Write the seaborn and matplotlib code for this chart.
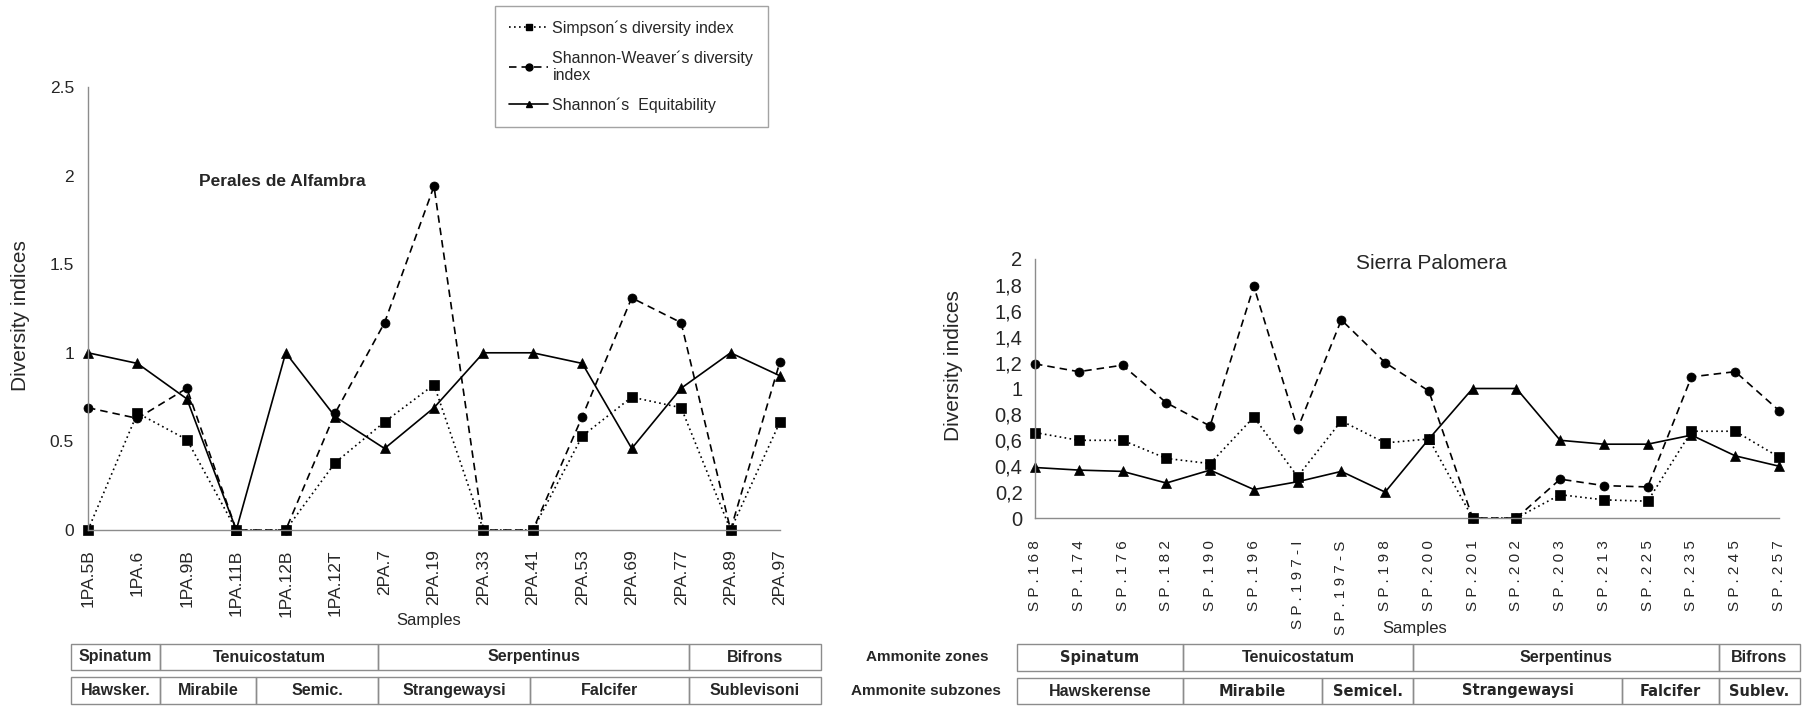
import numpy as np
import pandas as pd
import matplotlib
matplotlib.use("Agg")
import matplotlib.pyplot as plt
from matplotlib.lines import Line2D
from matplotlib.patches import Rectangle
import seaborn as sns

# ---- data: Perales de Alfambra ----
pa_samples = ["1PA.5B", "1PA.6", "1PA.9B", "1PA.11B", "1PA.12B", "1PA.12T", "2PA.7", "2PA.19",
              "2PA.33", "2PA.41", "2PA.53", "2PA.69", "2PA.77", "2PA.89", "2PA.97"]
pa_simpson = [0.0, 0.66, 0.51, 0.0, 0.0, 0.38, 0.61, 0.82, 0.0, 0.0, 0.53, 0.75, 0.69, 0.0, 0.61]
pa_shannon = [0.69, 0.63, 0.80, 0.0, 0.0, 0.66, 1.17, 1.94, 0.0, 0.0, 0.64, 1.31, 1.17, 0.0, 0.95]
pa_equit = [1.0, 0.94, 0.74, 0.0, 1.0, 0.64, 0.46, 0.69, 1.0, 1.0, 0.94, 0.46, 0.80, 1.0, 0.87]

# ---- data: Sierra Palomera ----
sp_samples = ["SP.168", "SP.174", "SP.176", "SP.182", "SP.190", "SP.196", "SP.197-I", "SP.197-S", "SP.198",
              "SP.200", "SP.201", "SP.202", "SP.203", "SP.213", "SP.225", "SP.235", "SP.245", "SP.257"]
sp_simpson = [0.66, 0.60, 0.60, 0.46, 0.42, 0.78, 0.32, 0.75, 0.58,
              0.61, 0.0, 0.0, 0.18, 0.14, 0.13, 0.67, 0.67, 0.47]
sp_shannon = [1.19, 1.13, 1.18, 0.89, 0.71, 1.79, 0.69, 1.53, 1.20,
              0.98, 0.0, 0.0, 0.30, 0.25, 0.24, 1.09, 1.13, 0.83]
sp_equit = [0.39, 0.37, 0.36, 0.27, 0.37, 0.22, 0.28, 0.36, 0.20,
            0.61, 1.0, 1.0, 0.60, 0.57, 0.57, 0.64, 0.48, 0.40]

index_names = ["Simpson´s diversity index", "Shannon-Weaver´s diversity\nindex", "Shannon´s  Equitability"]

pa_zones = ["Spinatum", "Tenuicostatum", "Serpentinus", "Bifrons"]
pa_subzones = ["Hawsker.", "Mirabile", "Semic.", "Strangewaysi", "Falcifer", "Sublevisoni"]
sp_zones = ["Spinatum", "Tenuicostatum", "Serpentinus", "Bifrons"]
sp_subzones = ["Hawskerense", "Mirabile", "Semicel.", "Strangewaysi", "Falcifer", "Sublev."]

# cell edges of the zone tables (pixels)
pa_zone_edges = [71, 160, 378, 689, 821]
pa_sub_edges = [71, 160, 256, 378, 530, 689, 821]
sp_zone_edges = [1017, 1183, 1413, 1719, 1800]
sp_sub_edges = [1017, 1183, 1322, 1413, 1622, 1719, 1800]

W, H = 1804, 707
sns.set_style("white")
plt.rcParams['font.family'] = ['Liberation Sans', 'DejaVu Sans']
GRAY = '#8c8c8c'


def fx(x):
    return x / W


def fy(y):
    return 1 - y / H


def long_frame(samples, simpson, shannon, equit):
    n = len(samples)
    return pd.DataFrame({
        "sample": samples * 3,
        "value": simpson + shannon + equit,
        "index": [index_names[0]] * n + [index_names[1]] * n + [index_names[2]] * n,
    })


markers = {index_names[0]: "s", index_names[1]: "o", index_names[2]: "^"}
dashes = {index_names[0]: (1, 2), index_names[1]: (4.5, 3), index_names[2]: ""}

fig = plt.figure(figsize=(W / 100, H / 100), dpi=100)
ax1 = fig.add_axes([fx(88), fy(530), fx(780 - 88), (530 - 87) / H])
ax2 = fig.add_axes([fx(1035), fy(518), fx(1779 - 1035), (518 - 259) / H])

for ax, df in [(ax1, long_frame(pa_samples, pa_simpson, pa_shannon, pa_equit)),
               (ax2, long_frame(sp_samples, sp_simpson, sp_shannon, sp_equit))]:
    sns.lineplot(data=df, x="sample", y="value", style="index", markers=markers, dashes=dashes,
                 color="black", sort=False, errorbar=None, legend=False, ax=ax,
                 linewidth=1.2, markersize=6.5, markeredgecolor="black", markeredgewidth=0.5,
                 clip_on=False)
    for s in ["top", "right"]:
        ax.spines[s].set_visible(False)
    for s in ["left", "bottom"]:
        ax.spines[s].set_color(GRAY)
        ax.spines[s].set_linewidth(1)
    ax.tick_params(direction="inout", length=8, color=GRAY, width=1)
    ax.set_xlabel("")
    ax.set_ylabel("")

# left axis
ax1.set_xlim(0, len(pa_samples) - 1)
ax1.set_ylim(0, 2.5)
ax1.set_yticks([0, 0.5, 1, 1.5, 2, 2.5])
ax1.set_yticklabels(["0", "0.5", "1", "1.5", "2", "2.5"], fontsize=12.5)
ax1.set_xticks(range(len(pa_samples)))
ax1.set_xticklabels(pa_samples, rotation=90, fontsize=12.5)
ax1.tick_params(axis="x", pad=10)
ax1.tick_params(axis="y", pad=6)

# right axis
ax2.set_xlim(0, len(sp_samples) - 1)
ax2.set_ylim(0, 2)
yt = np.round(np.arange(0, 2.01, 0.2), 1)
ax2.set_yticks(yt)
ax2.set_yticklabels([("%g" % v).replace(".", ",") for v in yt], fontsize=14.5)
ax2.set_xticks(range(len(sp_samples)))
ax2.set_xticklabels([" ".join(s) for s in sp_samples], rotation=90, fontsize=11)
ax2.tick_params(axis="x", pad=12)
ax2.tick_params(axis="y", pad=5)

# labels and titles
fig.text(fx(21), fy(316), "Diversity indices", rotation=90, ha="center", va="center", fontsize=15)
fig.text(fx(953), fy(366), "Diversity indices", rotation=90, ha="center", va="center", fontsize=15)
fig.text(fx(429), fy(620), "Samples", ha="center", va="center", fontsize=12)
fig.text(fx(1415), fy(628), "Samples", ha="center", va="center", fontsize=12)
fig.text(fx(282), fy(181), "Perales de Alfambra", ha="center", va="center", fontsize=12.5, weight="bold")
fig.text(fx(1431), fy(263), "Sierra Palomera", ha="center", va="center", fontsize=15)

# legend
handles = [Line2D([], [], color="black", lw=1.2, ls=(0, (1, 2)), marker="s", ms=5),
           Line2D([], [], color="black", lw=1.2, ls=(0, (4.5, 3)), marker="o", ms=5),
           Line2D([], [], color="black", lw=1.2, ls="-", marker="^", ms=5)]
leg = fig.legend(handles, index_names, loc="upper left", bbox_to_anchor=(fx(495), fy(6)),
                 bbox_transform=fig.transFigure, fontsize=11.5, frameon=True, fancybox=False,
                 edgecolor=GRAY, handlelength=2.4, handletextpad=0.3, labelspacing=0.9,
                 borderpad=0.9, borderaxespad=0)
leg.get_frame().set_linewidth(1)


# zone tables
def table_row(labels, edges, top, bottom, fonts):
    for i, lab in enumerate(labels):
        x0, x1 = edges[i], edges[i + 1]
        fig.add_artist(Rectangle((fx(x0), fy(bottom)), fx(x1 - x0), (bottom - top) / H,
                                 transform=fig.transFigure, fill=False, edgecolor=GRAY, lw=1))
        fam, size = fonts[i]
        fig.text(fx((x0 + x1) / 2), fy((top + bottom) / 2), lab, ha="center", va="center",
                 fontsize=size, weight="bold", family=fam)


narrow = (['Liberation Sans'], 11.5)
wide = (['DejaVu Sans'], 10.5)
table_row(pa_zones, pa_zone_edges, 644, 670, [narrow] * 4)
table_row(pa_subzones, pa_sub_edges, 677, 704, [narrow] * 6)
table_row(sp_zones, sp_zone_edges, 644, 671, [wide, narrow, narrow, narrow])
table_row(sp_subzones, sp_sub_edges, 678, 704, [narrow, wide, wide, wide, wide, wide])
fig.text(fx(927), fy(657), "Ammonite zones", ha="center", va="center", fontsize=11, weight="bold")
fig.text(fx(926), fy(691), "Ammonite subzones", ha="center", va="center", fontsize=11, weight="bold")

fig.savefig("out.png", dpi=100)
